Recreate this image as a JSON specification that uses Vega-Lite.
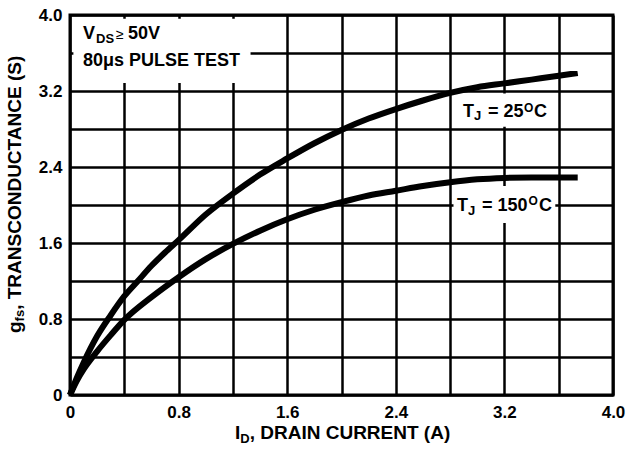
{
  "$schema": "https://vega.github.io/schema/vega-lite/v6.json",
  "width": 543,
  "height": 380,
  "autosize": "none",
  "padding": {"left": 70, "top": 15, "right": 17, "bottom": 54},
  "background": "white",
  "config": {"view": {"stroke": "black", "strokeWidth": 3}, "font": "Liberation Sans"},
  "datasets": {
    "boxes": [
      {"x": 0.025, "xe": 1.33, "y": 3.284, "ye": 3.96},
      {"x": 2.85, "xe": 3.56, "y": 2.825, "ye": 3.175},
      {"x": 2.825, "xe": 3.575, "y": 1.81, "ye": 2.2}
    ],
    "curves": [
      {"series": "25", "x": 0, "y": 0},
      {"series": "25", "x": 0.05, "y": 0.18},
      {"series": "25", "x": 0.1, "y": 0.34},
      {"series": "25", "x": 0.2, "y": 0.62},
      {"series": "25", "x": 0.3, "y": 0.84},
      {"series": "25", "x": 0.4, "y": 1.04},
      {"series": "25", "x": 0.5, "y": 1.2},
      {"series": "25", "x": 0.6, "y": 1.36},
      {"series": "25", "x": 0.7, "y": 1.5},
      {"series": "25", "x": 0.8, "y": 1.63},
      {"series": "25", "x": 1.0, "y": 1.9},
      {"series": "25", "x": 1.2, "y": 2.12},
      {"series": "25", "x": 1.4, "y": 2.32},
      {"series": "25", "x": 1.6, "y": 2.49},
      {"series": "25", "x": 1.8, "y": 2.65},
      {"series": "25", "x": 2.0, "y": 2.79},
      {"series": "25", "x": 2.2, "y": 2.91},
      {"series": "25", "x": 2.4, "y": 3.01},
      {"series": "25", "x": 2.6, "y": 3.1},
      {"series": "25", "x": 2.8, "y": 3.18},
      {"series": "25", "x": 3.0, "y": 3.24},
      {"series": "25", "x": 3.2, "y": 3.28},
      {"series": "25", "x": 3.4, "y": 3.32},
      {"series": "25", "x": 3.6, "y": 3.36},
      {"series": "25", "x": 3.74, "y": 3.39},
      {"series": "150", "x": 0, "y": 0},
      {"series": "150", "x": 0.05, "y": 0.15},
      {"series": "150", "x": 0.1, "y": 0.27},
      {"series": "150", "x": 0.2, "y": 0.46},
      {"series": "150", "x": 0.3, "y": 0.63},
      {"series": "150", "x": 0.4, "y": 0.79},
      {"series": "150", "x": 0.6, "y": 1.03},
      {"series": "150", "x": 0.8, "y": 1.24},
      {"series": "150", "x": 1.0, "y": 1.43},
      {"series": "150", "x": 1.2, "y": 1.59},
      {"series": "150", "x": 1.4, "y": 1.73},
      {"series": "150", "x": 1.6, "y": 1.85},
      {"series": "150", "x": 1.8, "y": 1.95},
      {"series": "150", "x": 2.0, "y": 2.03},
      {"series": "150", "x": 2.2, "y": 2.1},
      {"series": "150", "x": 2.4, "y": 2.15},
      {"series": "150", "x": 2.6, "y": 2.2},
      {"series": "150", "x": 2.8, "y": 2.24},
      {"series": "150", "x": 3.0, "y": 2.27},
      {"series": "150", "x": 3.2, "y": 2.285},
      {"series": "150", "x": 3.4, "y": 2.29},
      {"series": "150", "x": 3.6, "y": 2.29},
      {"series": "150", "x": 3.74, "y": 2.29}
    ],
    "texts": [
      {"role": "main", "x": 0.0958, "y": 3.747, "text": "V"},
      {"role": "sub", "x": 0.1915, "y": 3.705, "text": "DS"},
      {"role": "ge", "x": 0.339, "y": 3.747, "text": "≥"},
      {"role": "main", "x": 0.427, "y": 3.747, "text": "50V"},
      {"role": "main", "x": 0.0958, "y": 3.463, "text": "80μs PULSE TEST"},
      {"role": "main", "x": 2.895, "y": 2.929, "text": "T"},
      {"role": "sub", "x": 2.976, "y": 2.895, "text": "J"},
      {"role": "main", "x": 3.079, "y": 2.929, "text": "= 25"},
      {"role": "sup", "x": 3.344, "y": 2.982, "text": "O"},
      {"role": "main", "x": 3.418, "y": 2.929, "text": "C"},
      {"role": "main", "x": 2.851, "y": 1.937, "text": "T"},
      {"role": "sub", "x": 2.932, "y": 1.895, "text": "J"},
      {"role": "main", "x": 3.035, "y": 1.937, "text": "= 150"},
      {"role": "sup", "x": 3.378, "y": 2.0, "text": "O"},
      {"role": "main", "x": 3.455, "y": 1.937, "text": "C"},
      {"role": "title", "x": 1.2155, "y": -0.463, "text": "I"},
      {"role": "sub", "x": 1.2545, "y": -0.505, "text": "D"},
      {"role": "title", "x": 1.3237, "y": -0.463, "text": ", DRAIN CURRENT (A)"},
      {"role": "ytitle", "x": -0.3646, "y": 0.6526, "text": "g"},
      {"role": "ysub", "x": -0.339, "y": 0.7747, "text": "fs"},
      {"role": "ytitle", "x": -0.3646, "y": 0.8968, "text": ", TRANSCONDUCTANCE (S)"}
    ]
  },
  "encoding": {
    "x": {
      "field": "x", "type": "quantitative",
      "scale": {"domain": [0, 4], "nice": false, "zero": false},
      "axis": {
        "values": [0, 0.4, 0.8, 1.2, 1.6, 2.0, 2.4, 2.8, 3.2, 3.6, 4.0],
        "title": null, "grid": true, "gridColor": "black", "gridWidth": 2.5, "gridOpacity": 1,
        "domain": false, "ticks": false, "tickSize": 0, "labelPadding": 9,
        "labelFont": "Liberation Sans", "labelFontWeight": "bold", "labelFontSize": 17, "labelColor": "black",
        "labelFlush": false, "labelOverlap": false, "labelBound": false,
        "labelExpr": "round(datum.value*10) % 8 == 0 ? (datum.value == 0 ? '0' : format(datum.value, '.1f')) : ''"
      }
    },
    "y": {
      "field": "y", "type": "quantitative",
      "scale": {"domain": [0, 4], "nice": false, "zero": false},
      "axis": {
        "values": [0, 0.4, 0.8, 1.2, 1.6, 2.0, 2.4, 2.8, 3.2, 3.6, 4.0],
        "title": null, "grid": true, "gridColor": "black", "gridWidth": 2.5, "gridOpacity": 1,
        "domain": false, "ticks": false, "tickSize": 0, "labelPadding": 8,
        "labelFont": "Liberation Sans", "labelFontWeight": "bold", "labelFontSize": 17, "labelColor": "black",
        "labelFlush": false, "labelOverlap": false, "labelBound": false,
        "labelExpr": "round(datum.value*10) % 8 == 0 ? (datum.value == 0 ? '0' : format(datum.value, '.1f')) : ''"
      }
    }
  },
  "layer": [
    {
      "data": {"name": "boxes"},
      "mark": {"type": "rect", "fill": "white", "strokeWidth": 0},
      "encoding": {"x2": {"field": "xe"}, "y2": {"field": "ye"}}
    },
    {
      "data": {"name": "curves"},
      "mark": {"type": "line", "stroke": "black", "strokeWidth": 6, "interpolate": "monotone", "strokeCap": "butt"},
      "encoding": {"detail": {"field": "series", "type": "nominal"}}
    },
    {
      "data": {"name": "texts"},
      "transform": [{"filter": "datum.role == 'main'"}],
      "mark": {"type": "text", "align": "left", "baseline": "alphabetic", "font": "Liberation Sans", "fontWeight": "bold", "fontSize": 18, "fill": "black"},
      "encoding": {"text": {"field": "text"}}
    },
    {
      "data": {"name": "texts"},
      "transform": [{"filter": "datum.role == 'title'"}],
      "mark": {"type": "text", "align": "left", "baseline": "alphabetic", "font": "Liberation Sans", "fontWeight": "bold", "fontSize": 19, "fill": "black"},
      "encoding": {"text": {"field": "text"}}
    },
    {
      "data": {"name": "texts"},
      "transform": [{"filter": "datum.role == 'sub'"}],
      "mark": {"type": "text", "align": "left", "baseline": "alphabetic", "font": "Liberation Sans", "fontWeight": "bold", "fontSize": 13, "fill": "black"},
      "encoding": {"text": {"field": "text"}}
    },
    {
      "data": {"name": "texts"},
      "transform": [{"filter": "datum.role == 'sup'"}],
      "mark": {"type": "text", "align": "left", "baseline": "alphabetic", "font": "Liberation Sans", "fontWeight": "bold", "fontSize": 12, "fill": "black"},
      "encoding": {"text": {"field": "text"}}
    },
    {
      "data": {"name": "texts"},
      "transform": [{"filter": "datum.role == 'ge'"}],
      "mark": {"type": "text", "align": "left", "baseline": "alphabetic", "font": "Liberation Sans", "fontWeight": "normal", "fontSize": 14, "fill": "black"},
      "encoding": {"text": {"field": "text"}}
    },
    {
      "data": {"name": "texts"},
      "transform": [{"filter": "datum.role == 'ytitle'"}],
      "mark": {"type": "text", "align": "left", "baseline": "alphabetic", "angle": 270, "font": "Liberation Sans", "fontWeight": "bold", "fontSize": 19, "fill": "black"},
      "encoding": {"text": {"field": "text"}}
    },
    {
      "data": {"name": "texts"},
      "transform": [{"filter": "datum.role == 'ysub'"}],
      "mark": {"type": "text", "align": "left", "baseline": "alphabetic", "angle": 270, "font": "Liberation Sans", "fontWeight": "bold", "fontSize": 13, "fill": "black"},
      "encoding": {"text": {"field": "text"}}
    }
  ]
}
